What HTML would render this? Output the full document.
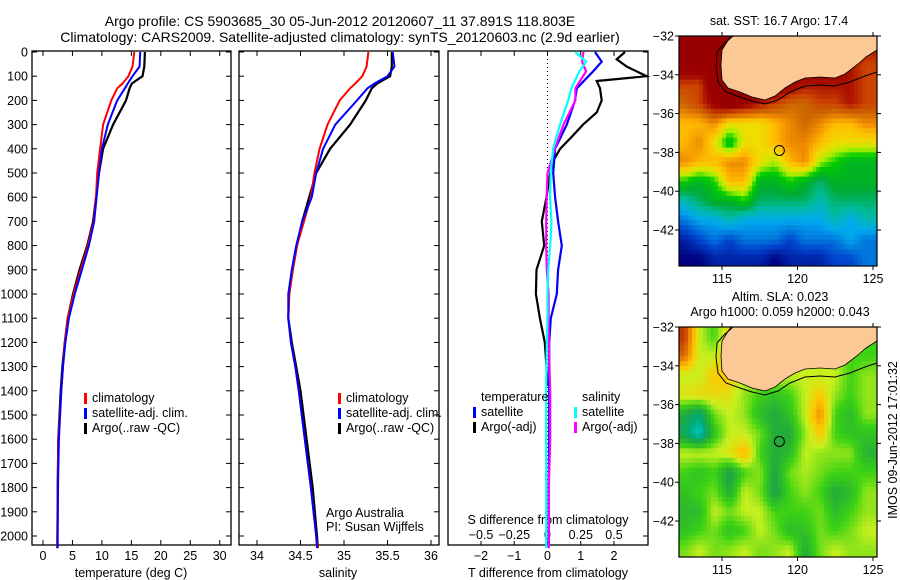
<!DOCTYPE html>
<html><head><meta charset="utf-8">
<style>
html,body{margin:0;padding:0;background:#fff;}
svg{display:block;font-family:"Liberation Sans",sans-serif;}
text{font-size:12.5px;fill:#000;}
</style></head>
<body>
<svg id="fig" width="900" height="580" viewBox="0 0 900 580" xmlns="http://www.w3.org/2000/svg">
<text x="340" y="26" text-anchor="middle" style="font-size:14px">Argo profile: CS 5903685_30 05-Jun-2012 20120607_11 37.891S 118.803E</text>
<text x="340" y="42" text-anchor="middle" style="font-size:14px">Climatology: CARS2009. Satellite-adjusted climatology: synTS_20120603.nc (2.9d earlier)</text>
<g id="p1"></g>
<g id="p2"></g>
<g id="p3"></g>
<g id="m1"></g>
<g id="m2"></g>
<text transform="translate(897,440) rotate(-90)" text-anchor="middle" style="font-size:12.5px">IMOS 09-Jun-2012 17:01:32</text>
</svg>
<script>
// ---------- data ----------
const depths1 = [0,60,100,130,150,200,300,400,500,600,700,800,900,1000,1100,1200,1300,1400,1600,1800,2000,2050];
const tempClim = [15.5,15.2,14.5,13.5,12.6,11.6,10.2,9.7,9.2,9.0,8.6,7.6,6.4,5.2,4.2,3.7,3.4,3.1,2.6,2.5,2.45,2.4];
const tempSat  = [16.5,16.4,15.2,14.4,13.9,12.6,11.0,10.0,9.5,9.1,8.7,7.8,6.6,5.4,4.4,3.8,3.4,3.1,2.7,2.55,2.5,2.5];
const tempArgo = [17.3,17.2,16.9,15.1,14.7,14.1,11.9,10.2,9.5,9.0,8.5,7.5,6.2,5.1,4.2,3.7,3.3,3.0,2.6,2.5,2.45,2.45];
const salClim = [35.28,35.26,35.21,35.13,35.07,34.95,34.81,34.72,34.66,34.62,34.54,34.46,34.41,34.37,34.36,34.39,34.44,34.48,34.55,34.62,34.68,34.70];
const salSat  = [35.56,35.58,35.50,35.35,35.27,35.15,34.90,34.76,34.68,34.63,34.52,34.45,34.40,34.36,34.36,34.39,34.44,34.48,34.55,34.62,34.68,34.69];
const salArgo = [35.55,35.55,35.53,35.38,35.32,35.25,35.07,34.84,34.68,34.60,34.52,34.46,34.41,34.37,34.36,34.40,34.45,34.50,34.57,34.64,34.69,34.70];
const depths3 = [0,30,60,100,120,150,200,250,300,350,400,450,500,600,700,800,900,1000,1100,1200,1300,1380];
const dTArgo = [2.33,2.08,2.38,2.98,1.48,1.58,1.63,1.48,1.07,0.73,0.38,0.17,0.08,-0.03,-0.17,-0.10,-0.33,-0.35,-0.23,-0.08,-0.03,0.0];
const depths3b = [0,40,80,150,200,300,400,500,600,700,800,900,1000,1100,1200,1400,1600,1800,2000,2050];
const dTSat  = [1.43,1.63,1.37,0.88,0.83,0.58,0.23,0.17,0.23,0.32,0.43,0.32,0.28,0.10,0.05,0.05,0.05,0.04,0.04,0.04];
const dSSat  = [0.21,0.29,0.24,0.18,0.156,0.094,0.042,0.024,0.019,0.03,0.02,0.005,0.0,0.0,-0.005,-0.01,-0.01,-0.01,-0.01,-0.01];
const dSArgo = [0.27,0.26,0.29,0.21,0.21,0.12,0.056,0.0,-0.006,-0.01,-0.01,-0.005,0.008,0.008,0.01,0.02,0.02,0.01,0.01,0.01];
const depthTicks = [0,100,200,300,400,500,600,700,800,900,1000,1100,1200,1300,1400,1500,1600,1700,1800,1900,2000];
const tTicks = [0,5,10,15,20,25,30];
const sTicks = [34,34.5,35,35.5,36];
const sTickLabels = ['34','34.5','35','35.5','36'];
const dTTicks = [-2,-1,0,1,2];
const dSTicks = [-0.5,-0.25,0,0.25,0.5];
const dSTickLabels = ['\u22120.5','\u22120.25','0','0.25','0.5'];
const lonTicks = [115,120,125];
const latTicks = [-32,-34,-36,-38,-40,-42];
const argoLon = 118.8, argoLat = -37.9;
// SST grid: rows centred lat -32.5..-43.5, cols centred lon 112.5..124.5
const sstGrid = [
[21,21,21,21,21,21,21,21,21,21,21,21,20],
[21,21,21,21,21,21,21,21,21,21,21,20,19.5],
[19.5,19.5,21,21,21,21,21,20.5,20,20,20,20,19.5],
[19,19.5,20.5,21,20.5,20,19.5,19,19,19.5,19.5,20,19.5],
[18,18,18.5,17.5,17.5,17.5,18,18.5,19,18.5,18,18,18.5],
[18,18.5,17.5,16,17.5,17.5,18,18.5,18.5,18,17.5,17.5,17.5],
[18.5,18,18,18.5,18.5,17.5,17,18,18.5,17,16.5,16,16],
[16.5,16,16.5,18,18,16,16,16.5,16,15.5,16,16,16],
[15,15.5,16,16,16.5,15.5,15.5,15.5,15.5,15,15.5,15.5,15.5],
[14,14.5,14.5,15,14.5,14.5,14.5,14.5,14.5,14.5,15,14.5,15],
[13,13.5,14,13.5,14,14,14,13.5,14,14,14,14.5,14],
[12.5,12.5,13,13,13,13,12.5,13,13,13,13.5,13.5,14]];
const slaGrid = [
[.22,.05,0,.1,.05,.05,.05,.05,.05,.05,.05,.05,0],
[.18,.05,.05,.12,.05,.05,.05,.05,.05,.05,.05,0,0],
[.05,.05,.1,.1,.05,.05,.05,.05,.05,.05,.05,0,.03],
[.07,.08,.08,.07,.03,0,-.02,0,.05,.1,.03,0,.03],
[-.05,-.1,.02,.05,.03,-.03,-.05,-.02,.05,.15,0,-.03,.03],
[-.08,-.15,-.02,.05,.05,.02,-.05,-.05,.03,.1,0,-.02,-.02],
[.05,.05,.05,.07,.12,0,-.05,-.03,.05,.03,.03,.03,-.04],
[0,-.02,0,-.07,0,.03,-.06,.02,.04,.02,0,0,0],
[-.02,0,.02,-.05,.05,.02,-.07,0,.03,0,-.05,-.03,.03],
[-.03,-.03,.05,.02,.05,.05,0,0,0,.02,-.03,0,.03],
[-.02,0,.02,-.02,0,.05,.02,-.03,-.02,.02,0,.02,.05],
[.02,.05,.02,.03,.05,.02,.03,.05,-.05,.02,.05,.03,.03]];

// ---------- helpers ----------
const NS='http://www.w3.org/2000/svg';
function mk(parent,tag,attrs,txt){const e=document.createElementNS(NS,tag);for(const k in attrs)e.setAttribute(k,attrs[k]);if(txt!==undefined)e.textContent=txt;parent.appendChild(e);return e;}
const TOP=51,BOT=545;
const yD = d => 52 + d*0.242;
function stepPath(vals,deps,xf){let p='';for(let i=0;i<vals.length;i++){const x=xf(vals[i]).toFixed(1),y=yD(deps[i]).toFixed(1);p+=(i?'L':'M')+x+' '+y;}return p;}
function frame(g,x0,x1,name){const r=mk(g,'rect',{x:x0,y:TOP,width:x1-x0,height:BOT-TOP,fill:'none',stroke:'#000','stroke-width':1.3});

}
function line(g,d,color,w,name){const p=mk(g,'path',{d:d,fill:'none',stroke:color,'stroke-width':w});

}
function legend(g,x,y,color,label,name){const b=mk(g,'rect',{x:x,y:y-9,width:3,height:11,fill:color});


const t=mk(g,'text',{x:x+8,y:y},label);

}
function txt(g,x,y,s,anchor,name,size){const t=mk(g,'text',{x:x,y:y,'text-anchor':anchor||'start'},s);if(size)t.style.fontSize=size;

return t;}

// ---------- panel 1 ----------
const p1=document.getElementById('p1');
const xT = t => 43 + t*5.89;
frame(p1,32,231,'temperature-frame');
depthTicks.forEach(d=>{const y=yD(d);mk(p1,'line',{x1:32,x2:37,y1:y,y2:y,stroke:'#000'});mk(p1,'line',{x1:226,x2:231,y1:y,y2:y,stroke:'#000'});
txt(p1,28,y+4.5,String(d),'end','depth-tick-label');});
tTicks.forEach(t=>{const x=xT(t);mk(p1,'line',{x1:x,x2:x,y1:BOT,y2:BOT-5,stroke:'#000'});mk(p1,'line',{x1:x,x2:x,y1:TOP,y2:TOP+5,stroke:'#000'});
txt(p1,x,560,String(t),'middle','temperature-tick-label');});
txt(p1,131,577,'temperature (deg C)','middle','temperature-axis-title');
line(p1,stepPath(tempArgo,depths1,xT),'#000',2.2,'temp-argo-line');
line(p1,stepPath(tempClim,depths1,xT),'#f00',2,'temp-clim-line');
line(p1,stepPath(tempSat,depths1,xT),'#00f',2,'temp-sat-line');
legend(p1,84,402,'#f00','climatology','legend-climatology');
legend(p1,84,417,'#00f','satellite-adj. clim.','legend-satellite');
legend(p1,84,432,'#000','Argo(..raw -QC)','legend-argo');

// ---------- panel 2 ----------
const p2=document.getElementById('p2');
const xS = s => 257 + (s-34)*87;
frame(p2,239,439,'salinity-frame');
sTicks.forEach((s,i)=>{const x=xS(s);mk(p2,'line',{x1:x,x2:x,y1:BOT,y2:BOT-5,stroke:'#000'});mk(p2,'line',{x1:x,x2:x,y1:TOP,y2:TOP+5,stroke:'#000'});
txt(p2,x,560,sTickLabels[i],'middle','salinity-tick-label');});
depthTicks.forEach(d=>{const y=yD(d);mk(p2,'line',{x1:239,x2:244,y1:y,y2:y,stroke:'#000'});mk(p2,'line',{x1:434,x2:439,y1:y,y2:y,stroke:'#000'});});
txt(p2,338,577,'salinity','middle','salinity-axis-title');
line(p2,stepPath(salArgo,depths1,xS),'#000',2.2,'sal-argo-line');
line(p2,stepPath(salClim,depths1,xS),'#f00',2,'sal-clim-line');
line(p2,stepPath(salSat,depths1,xS),'#00f',2,'sal-sat-line');
legend(p2,338,402,'#f00','climatology','legend-climatology-2');
legend(p2,338,417,'#00f','satellite-adj. clim.','legend-satellite-2');
legend(p2,338,432,'#000','Argo(..raw -QC)','legend-argo-2');
txt(p2,326,517,'Argo Australia','start','argo-australia-note');
txt(p2,326,531,'PI: Susan Wijffels','start','pi-note');

// ---------- panel 3 ----------
const p3=document.getElementById('p3');
const xDT = v => 547.5 + v*33.25;
const xDS = v => 547.5 + v*133;
frame(p3,448,648,'difference-frame');
mk(p3,'line',{x1:547.5,x2:547.5,y1:TOP,y2:BOT,stroke:'#000','stroke-dasharray':'1,3'});
dTTicks.forEach(v=>{const x=xDT(v);mk(p3,'line',{x1:x,x2:x,y1:TOP,y2:TOP+5,stroke:'#000'});
txt(p3,x,560,v<0?'\u2212'+Math.abs(v):String(v),'middle','t-diff-tick-label');});
dSTicks.forEach((v,i)=>{const x=xDS(v);mk(p3,'line',{x1:x,x2:x,y1:BOT,y2:BOT-4,stroke:'#000'});
txt(p3,x,539,dSTickLabels[i],'middle','s-diff-tick-label');});
depthTicks.forEach(d=>{const y=yD(d);mk(p3,'line',{x1:643,x2:648,y1:y,y2:y,stroke:'#000'});});
txt(p3,548,524,'S difference from climatology','middle','s-diff-axis-title');
txt(p3,548,577,'T difference from climatology','middle','t-diff-axis-title');
line(p3,stepPath(dTArgo,depths3,xDT),'#000',2.2,'dt-argo-line');
line(p3,stepPath(dTSat,depths3b,xDT),'#00f',2.2,'dt-sat-line');
line(p3,stepPath(dSArgo,depths3b,xDS),'#f0f',2.2,'ds-argo-line');
line(p3,stepPath(dSSat,depths3b,xDS),'#0ff',2.2,'ds-sat-line');
txt(p3,481,401,'temperature','start','legend-temperature-header');
legend(p3,473,416,'#00f','satellite','legend-t-satellite');
legend(p3,473,431,'#000','Argo(-adj)','legend-t-argo');
txt(p3,582,401,'salinity','start','legend-salinity-header');
legend(p3,574,416,'#0ff','satellite','legend-s-satellite');
legend(p3,574,431,'#f0f','Argo(-adj)','legend-s-argo');

// ---------- maps ----------
function rgb(c){return 'rgb('+c.map(Math.round).join(',')+')';}
function interp(stops,v){if(v<=stops[0][0])return rgb(stops[0][1]);for(let i=1;i<stops.length;i++){if(v<=stops[i][0]){const a=stops[i-1],b=stops[i],f=(v-a[0])/(b[0]-a[0]);return rgb([0,1,2].map(k=>a[1][k]+(b[1][k]-a[1][k])*f));}}return rgb(stops[stops.length-1][1]);}
const sstStops=[[12.5,[0,0,128]],[13.5,[0,68,204]],[14.5,[0,170,238]],[15.2,[0,187,153]],[15.8,[0,170,51]],[16.5,[0,204,0]],[17,[170,238,0]],[17.5,[238,221,0]],[18,[255,187,0]],[18.5,[238,136,0]],[19,[204,102,0]],[19.5,[204,68,0]],[20,[170,17,0]],[20.5,[153,0,0]]];
const slaStops=[[-0.15,[0,204,204]],[-0.1,[0,170,120]],[-0.05,[34,170,60]],[0,[60,210,20]],[0.05,[200,240,30]],[0.1,[255,200,0]],[0.15,[238,140,0]],[0.25,[170,20,0]]];
function sample(grid,lon,lat){
 const nr=grid.length,nc=grid[0].length;
 let c=lon-112.5, r=-32.5-lat;
 c=Math.max(0,Math.min(nc-1.0001,c)); r=Math.max(0,Math.min(nr-1.0001,r));
 const c0=Math.floor(c),r0=Math.floor(r),fc=c-c0,fr=r-r0;
 return grid[r0][c0]*(1-fc)*(1-fr)+grid[r0][c0+1]*fc*(1-fr)+grid[r0+1][c0]*(1-fc)*fr+grid[r0+1][c0+1]*fc*fr;
}
const landPts=[[731,36],[727,42],[722,50],[721,65],[722,80],[728,88],[740,92],[752,97],[765,100],[775,96],[785,88],[795,82],[805,78],[820,77],[835,78],[845,74],[858,64],[866,57],[877,50],[877,36]];
const isoPts=[[733,36],[724,44],[717,52],[716,66],[718,82],[726,92],[740,97],[752,101],[765,104],[778,100],[790,92],[805,86],[820,85],[835,86],[850,82],[865,76],[877,72]];
function drawMap(gid,dy,grid,stops,name,title1,title2){
 const g=document.getElementById(gid);
 const X0=679,X1=877,Y0=36+dy,Y1=266+dy;
 const lx = lon => 722 + (lon-115)*15.1;
 const ly = lat => Y0 + (-32-lat)*19.4;
 const cg=mk(g,'g',{});
 
 
 const step=0.25;
 for(let lon=112; lon<125.3; lon+=step){
  for(let lat=-32; lat>-44; lat-=step){
   const x=Math.max(X0,lx(lon)), x2=Math.min(X1,lx(lon+step)+0.4);
   const y=Math.max(Y0,ly(lat)), y2=Math.min(Y1,ly(lat-step)+0.4);
   if(x2>x&&y2>y) mk(cg,'rect',{x:x.toFixed(1),y:y.toFixed(1),width:(x2-x).toFixed(1),height:(y2-y).toFixed(1),fill:interp(stops,sample(grid,lon+step/2,lat-step/2))});
  }
 }
 const land=mk(g,'polygon',{points:landPts.map(p=>p[0]+','+(p[1]+dy)).join(' '),fill:'#fbc896',stroke:'#000','stroke-width':0.8});
 
 
 mk(g,'polyline',{points:isoPts.map(p=>p[0]+','+(p[1]+dy)).join(' '),fill:'none',stroke:'#000','stroke-width':1});
 const fr=mk(g,'rect',{x:X0,y:Y0,width:X1-X0,height:Y1-Y0,fill:'none',stroke:'#000','stroke-width':1.2});
 
 
 const m=mk(g,'circle',{cx:lx(argoLon),cy:ly(argoLat),r:5,fill:'none',stroke:'#000','stroke-width':1});
 
 
 lonTicks.forEach(l=>{const x=lx(l);mk(g,'line',{x1:x,x2:x,y1:Y1,y2:Y1+4,stroke:'#000'});mk(g,'line',{x1:x,x2:x,y1:Y0,y2:Y0-4,stroke:'#000'});
  txt(g,x,Y1+17,String(l),'middle',name+'-lon-label');});
 latTicks.forEach(l=>{const y=ly(l);mk(g,'line',{x1:X0,x2:X0-4,y1:y,y2:y,stroke:'#000'});mk(g,'line',{x1:X1,x2:X1+4,y1:y,y2:y,stroke:'#000'});
  txt(g,674,y+4.5,'\u2212'+Math.abs(l),'end',name+'-lat-label');});
 if(title2){txt(g,780,dy+10,title1,'middle',name+'-title');txt(g,780,dy+25,title2,'middle',name+'-subtitle');}
 else txt(g,779,25+dy,title1,'middle',name+'-title');
}
drawMap('m1',0,sstGrid,sstStops,'sst-map','sat. SST: 16.7 Argo: 17.4');
drawMap('m2',291,slaGrid,slaStops,'sla-map','Altim. SLA: 0.023','Argo h1000: 0.059 h2000: 0.043');
</script>
</body></html>
